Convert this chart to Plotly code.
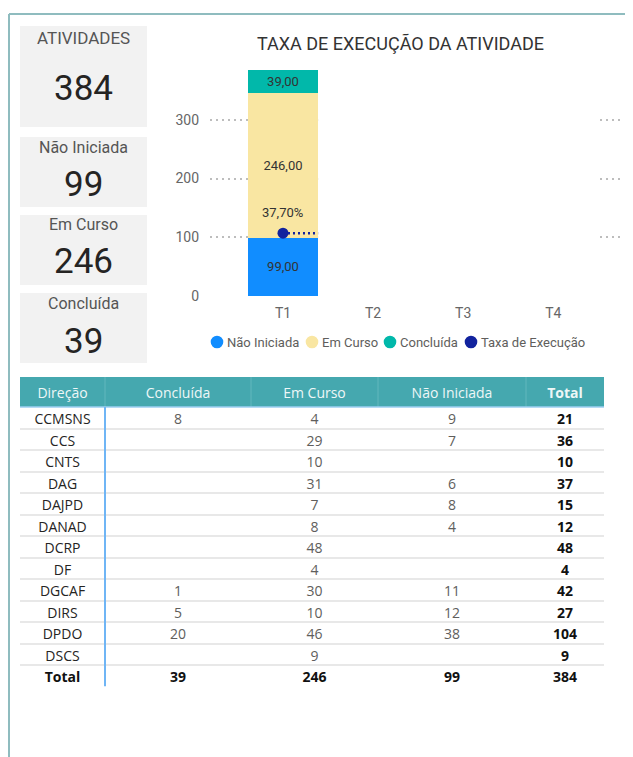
import plotly.graph_objects as go

# the page body adds an 8px margin, so the figure is laid out 8px in
OFF = 8
W, H = 625, 749
FONT = "Roboto, sans-serif"
TABLE_FONT = "Open Sans, sans-serif"

# chart data
quarters = ["T1", "T2", "T3", "T4"]
q_nao_iniciada = [99]
q_em_curso = [246]
q_concluida = [39]
q_taxa = [0.377]

# kpi cards
kpi_labels = ["ATIVIDADES", "Não Iniciada", "Em Curso", "Concluída"]
kpi_values = [384, 99, 246, 39]

# table
table_header = ["Direção", "Concluída", "Em Curso", "Não Iniciada", "Total"]
direcoes = ["CCMSNS", "CCS", "CNTS", "DAG", "DAJPD", "DANAD",
            "DCRP", "DF", "DGCAF", "DIRS", "DPDO", "DSCS"]
t_concluida = [8, None, None, None, None, None, None, None, 1, 5, 20, None]
t_em_curso = [4, 29, 10, 31, 7, 8, 48, 4, 30, 10, 46, 9]
t_nao_iniciada = [9, 7, None, 6, 8, 4, None, None, 11, 12, 38, None]
t_total = [21, 36, 10, 37, 15, 12, 48, 4, 42, 27, 104, 9]
total_row = [39, 246, 99, 384]

COLORS = {"Não Iniciada": "#118DFF", "Em Curso": "#F9E6A2",
          "Concluída": "#01B8AA", "Taxa de Execução": "#12239E"}


def px_x(px):
    return (px - OFF) / W


def px_y(py):
    return 1 - (py - OFF) / H


fig = go.Figure()

# stacked bars
for name, vals in [("Não Iniciada", q_nao_iniciada), ("Em Curso", q_em_curso),
                   ("Concluída", q_concluida)]:
    fig.add_trace(go.Bar(
        x=quarters[:len(vals)], y=vals, name=name,
        marker=dict(color=COLORS[name], line=dict(width=0)),
        texttemplate="%{y:.2f}", textposition="inside",
        insidetextanchor="middle", textangle=0,
        textfont=dict(family=FONT, size=13, color="#333333"),
        showlegend=False, hoverinfo="skip",
    ))

# execution rate on hidden secondary axis
fig.add_trace(go.Scatter(
    x=quarters[:len(q_taxa)], y=q_taxa, yaxis="y2", mode="markers",
    marker=dict(color=COLORS["Taxa de Execução"], size=11),
    showlegend=False, cliponaxis=False,
))
for q, t in zip(quarters, q_taxa):
    fig.add_annotation(x=q, y=t, xref="x", yref="y2", text=f"{t * 100:.2f}%".replace(".", ","),
                       yshift=21, showarrow=False,
                       font=dict(family=FONT, size=13, color="#333333"))

# table drawn on its own hidden axes
col_widths = [85, 146, 127, 148, 78]
col_edges = [0]
for w in col_widths:
    col_edges.append(col_edges[-1] + w)
col_centers = [(a + b) / 2 for a, b in zip(col_edges[:-1], col_edges[1:])]
header_units = 30 / 21.5
text_dy = 3 / 21.5  # nudge text onto the visual middle of each row
header_y = -0.5 - header_units / 2 + 2 / 21.5
n_rows = len(direcoes) + 1
rows = [i + text_dy for i in range(n_rows)]

fig.add_trace(go.Scatter(
    x=col_centers, y=[header_y] * len(table_header), mode="text",
    text=table_header[:-1] + ["<b>%s</b>" % table_header[-1]],
    textfont=dict(family=TABLE_FONT, size=14, color="#EEF7F7"),
    xaxis="x3", yaxis="y3", showlegend=False, cliponaxis=False, hoverinfo="skip",
))


def fmt(vals, total):
    return ["" if v is None else str(v) for v in vals] + ["<b>%d</b>" % total]


columns = [
    (direcoes + ["<b>Total</b>"], ["#252423"] * len(direcoes) + ["#111111"]),
    (fmt(t_concluida, total_row[0]), ["#605E5C"] * len(direcoes) + ["#111111"]),
    (fmt(t_em_curso, total_row[1]), ["#605E5C"] * len(direcoes) + ["#111111"]),
    (fmt(t_nao_iniciada, total_row[2]), ["#605E5C"] * len(direcoes) + ["#111111"]),
    (["<b>%d</b>" % v for v in t_total + [total_row[3]]], ["#111111"] * n_rows),
]
for cx, (texts, colors) in zip(col_centers, columns):
    fig.add_trace(go.Scatter(
        x=[cx] * n_rows, y=rows, mode="text", text=texts,
        textfont=dict(family=TABLE_FONT, size=14, color=colors),
        xaxis="x3", yaxis="y3", showlegend=False, cliponaxis=False, hoverinfo="skip",
    ))

shapes = []
# outer frame
shapes.append(dict(type="line", xref="paper", yref="paper", x0=px_x(9), x1=1,
                   y0=px_y(14), y1=px_y(14), line=dict(color="#8FBCBF", width=2)))
shapes.append(dict(type="line", xref="paper", yref="paper", x0=px_x(9), x1=px_x(9),
                   y0=px_y(14), y1=0, line=dict(color="#8FBCBF", width=2)))

# kpi cards
card_boxes = [(26, 127), (137, 207), (215, 285), (293, 363)]
label_y = [38, 147, 225, 303]
label_size = [17, 16, 16, 16]
value_y = [89, 185, 261, 341]
for (top, bottom), lab, val, ly, ls, vy in zip(card_boxes, kpi_labels, kpi_values,
                                                label_y, label_size, value_y):
    shapes.append(dict(type="rect", xref="paper", yref="paper",
                       x0=px_x(20), x1=px_x(147), y0=px_y(bottom), y1=px_y(top),
                       fillcolor="#F2F2F2", line=dict(width=0), layer="below"))
    fig.add_annotation(x=px_x(83.5), y=px_y(ly), xref="paper", yref="paper", text=lab,
                       xanchor="center", yanchor="middle", showarrow=False,
                       font=dict(family=FONT, size=ls, color="#555555"))
    fig.add_annotation(x=px_x(83.5), y=px_y(vy), xref="paper", yref="paper", text=str(val),
                       xanchor="center", yanchor="middle", showarrow=False,
                       font=dict(family=FONT, size=35, color="#252423"))

# hide middle part of the gridlines, like the reference
shapes.append(dict(type="rect", xref="x", yref="y", x0=0.39, x1=3.5, y0=-10, y1=410,
                   fillcolor="white", line=dict(width=0), layer="between"))
# dotted rate line to the bar edge
shapes.append(dict(type="line", xref="x", yref="y2", x0=0, x1=0.39,
                   y0=q_taxa[0], y1=q_taxa[0],
                   line=dict(color=COLORS["Taxa de Execução"], width=2.5, dash="2px,3px")))

# table header band and dividers
shapes.append(dict(type="rect", xref="x3", yref="y3", x0=0, x1=col_edges[-1],
                   y0=-0.5 - header_units, y1=-0.5, fillcolor="#45A8AF",
                   line=dict(width=0), layer="below"))
for e in col_edges[1:-1]:
    shapes.append(dict(type="line", xref="x3", yref="y3", x0=e, x1=e,
                       y0=-0.5 - header_units, y1=-0.5,
                       line=dict(color="#62B7BD", width=1)))
shapes.append(dict(type="line", xref="x3", yref="y3", x0=0, x1=col_edges[-1],
                   y0=-0.5, y1=-0.5, line=dict(color="#9CCFF2", width=1.5)))
shapes.append(dict(type="line", xref="x3", yref="y3", x0=col_edges[1], x1=col_edges[1],
                   y0=-0.5, y1=n_rows - 0.5, line=dict(color="#6FB5F5", width=2)))

# legend, drawn by hand to keep Power BI's tight spacing
legend_x = [217, 312, 390, 471]
legend_y = 342
r = 6.3
for (name, color), lx in zip(COLORS.items(), legend_x):
    shapes.append(dict(type="circle", xref="paper", yref="paper",
                       x0=px_x(lx - r), x1=px_x(lx + r),
                       y0=px_y(legend_y + r), y1=px_y(legend_y - r),
                       fillcolor=color, line=dict(width=0)))
    fig.add_annotation(x=px_x(lx + r + 2), y=px_y(legend_y), xref="paper", yref="paper",
                       text=name, xanchor="left", yanchor="middle", showarrow=False,
                       font=dict(family=FONT, size=13, color="#605E5C"))

fig.add_annotation(x=px_x(400), y=px_y(43), xref="paper", yref="paper",
                   text="TAXA DE EXECUÇÃO DA ATIVIDADE", showarrow=False,
                   xanchor="center", yanchor="middle",
                   font=dict(family=FONT, size=18, color="#333333"))

fig.update_layout(
    width=W, height=H, autosize=False,
    margin=dict(l=0, r=0, t=0, b=0, autoexpand=False),
    paper_bgcolor="white", plot_bgcolor="white",
    separators=",.",
    barmode="stack", bargap=0.22,
    font=dict(family=FONT, size=12, color="#666666"),
    shapes=shapes,
    showlegend=False,
    xaxis=dict(domain=[px_x(210), px_x(620)], type="category",
               categoryorder="array", categoryarray=quarters,
               range=[-0.81, 3.74], showgrid=False, zeroline=False, showline=False,
               ticks="", ticklabelstandoff=7, tickfont=dict(size=14, color="#666666")),
    yaxis=dict(domain=[px_y(296), px_y(61)], range=[0, 400],
               tickvals=[0, 100, 200, 300], showgrid=True, gridcolor="#BDBDBD",
               griddash="1.5px,4.5px", gridwidth=1.5, zeroline=False, showline=False,
               ticks="", ticklabelstandoff=10,
               tickfont=dict(size=14, color="#666666")),
    yaxis2=dict(overlaying="y", range=[0, 1.41], visible=False, showgrid=False),
    xaxis3=dict(domain=[px_x(20), px_x(604)], range=[0, col_edges[-1]], anchor="y3",
                showgrid=False, zeroline=False, showline=False, showticklabels=False, ticks=""),
    yaxis3=dict(domain=[px_y(686.5), px_y(377)], range=[n_rows - 0.5, -0.5 - header_units],
                anchor="x3", tickvals=[i + 0.5 for i in range(n_rows - 1)],
                showgrid=True, gridcolor="#E8E8E8", gridwidth=2,
                zeroline=False, showline=False, showticklabels=False, ticks=""),
)

fig.write_html("out.html")
